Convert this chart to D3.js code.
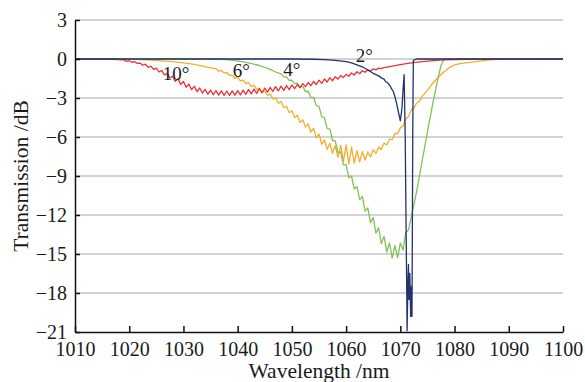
<!DOCTYPE html>
<html>
<head>
<meta charset="utf-8">
<script src="https://cdn.jsdelivr.net/npm/d3@7"></script>
<style>
  html, body { margin: 0; padding: 0; background: #fff; }
  svg { font-family: "Liberation Serif"; }
</style>
</head>
<body>
<svg id="chart" width="585" height="382"></svg>
<script>
// transmission spectra, [wavelength nm, transmission dB]
const curve10deg = [
  [1010,0],[1014,0],[1017,-0.02],[1018,-0.05],
  [1019,-0.06],[1019.5,-0.18],[1020,-0.13],[1020.5,-0.25],[1021,-0.21],[1021.5,-0.34],[1022,-0.31],[1022.5,-0.48],
  [1023,-0.40],[1023.5,-0.64],[1024,-0.55],[1024.5,-0.80],[1025,-0.70],[1025.5,-1.00],[1026,-0.88],[1026.5,-1.23],
  [1027,-1.10],[1027.5,-1.46],[1028,-1.33],[1028.5,-1.72],[1029,-1.51],[1029.5,-1.96],[1030,-1.73],[1030.5,-2.17],
  [1031,-1.93],[1031.5,-2.36],[1032,-2.10],[1032.5,-2.51],[1033,-2.23],[1033.5,-2.62],[1034,-2.33],[1034.5,-2.70],
  [1035,-2.39],[1035.5,-2.75],[1036,-2.43],[1036.5,-2.78],[1037,-2.45],[1037.5,-2.80],[1038,-2.46],[1038.5,-2.80],
  [1039,-2.45],[1039.5,-2.78],[1040,-2.43],[1040.5,-2.76],[1041,-2.40],[1041.5,-2.72],[1042,-2.36],[1042.5,-2.68],
  [1043,-2.32],[1043.5,-2.64],[1044,-2.28],[1044.5,-2.60],[1045,-2.23],[1045.5,-2.55],[1046,-2.18],[1046.5,-2.50],
  [1047,-2.13],[1047.5,-2.45],[1048,-2.09],[1048.5,-2.41],[1049,-2.04],[1049.5,-2.36],[1050,-1.99],[1050.5,-2.28],
  [1051,-1.96],[1051.5,-2.21],[1052,-1.89],[1052.5,-2.13],[1053,-1.81],[1053.5,-2.05],[1054,-1.72],[1054.5,-1.96],
  [1055,-1.63],[1055.5,-1.87],[1056,-1.54],[1056.5,-1.77],[1057,-1.44],[1057.5,-1.67],[1058,-1.36],[1058.5,-1.55],
  [1059,-1.28],[1059.5,-1.43],[1060,-1.18],[1060.5,-1.33],[1061,-1.08],[1061.5,-1.23],[1062,-0.98],[1062.5,-1.13],
  [1063,-0.90],[1063.5,-1.02],[1064,-0.84],[1064.5,-0.92],[1065,-0.76],[1065.5,-0.84],[1066,-0.70],[1066.5,-0.74],
  [1067,-0.66],[1068,-0.58],[1070,-0.44],[1072,-0.30],[1074,-0.20],[1076,-0.12],[1078,-0.07],[1082,-0.03],
  [1088,-0.01],[1100,0]
];

const curve6deg = [
  [1010,0],[1018,0],[1020,-0.02],[1022,-0.05],[1024,-0.09],[1026,-0.14],[1028,-0.20],[1030,-0.30],
  [1032,-0.42],[1034,-0.58],[1035,-0.68],
  [1036,-0.75],[1036.5,-0.93],[1037,-0.89],[1037.5,-1.08],[1038,-1.04],[1038.5,-1.27],[1039,-1.24],[1039.5,-1.48],
  [1040,-1.42],[1040.5,-1.69],[1041,-1.62],[1041.5,-1.90],[1042,-1.81],[1042.5,-2.11],[1043,-2.02],[1043.5,-2.35],
  [1044,-2.25],[1044.5,-2.58],[1045,-2.46],[1045.5,-2.81],[1046,-2.68],[1046.5,-3.08],[1047,-2.98],[1047.5,-3.39],
  [1048,-3.27],[1048.5,-3.75],[1049,-3.63],[1049.5,-4.13],[1050,-3.99],[1050.5,-4.50],[1051,-4.33],[1051.5,-4.88],
  [1052,-4.67],[1052.5,-5.24],[1053,-5.00],[1053.5,-5.63],[1054,-5.33],[1054.5,-6.07],[1055,-5.78],[1055.5,-6.56],
  [1056,-6.22],[1056.5,-6.96],[1057,-6.48],[1057.5,-7.26],[1058,-6.67],[1058.5,-7.57],[1059,-6.65],[1059.5,-7.88],
  [1060,-6.60],[1060.5,-8.09],[1061,-6.77],[1061.5,-8.01],[1062,-7.05],[1062.5,-7.93],[1063,-7.10],[1063.5,-7.77],
  [1064,-7.15],[1064.5,-7.54],[1065,-6.98],[1065.5,-7.26],[1066,-6.77],[1066.5,-6.97],[1067,-6.47],[1067.5,-6.61],
  [1068,-6.17],[1068.5,-6.21],[1069,-5.73],[1069.5,-5.72],[1070,-5.30],[1070.5,-5.15],[1071,-4.62],[1071.5,-4.43],
  [1072,-3.92],[1072.5,-3.80],[1073,-3.39],[1073.5,-3.26],[1074,-2.90],
  [1075,-2.40],[1076,-1.85],[1077,-1.40],[1078,-1.00],[1079,-0.68],[1080,-0.45],[1081,-0.36],[1082,-0.30],
  [1084,-0.20],[1086,-0.08],[1088,-0.02],[1090,0],[1100,0]
];

const curve4deg = [
  [1010,0],[1034,0],[1036,-0.02],[1038,-0.05],[1040,-0.15],[1042,-0.30],[1044,-0.50],[1046,-0.80],[1047,-1.00],
  [1048,-1.14],[1048.5,-1.38],[1049,-1.38],[1049.5,-1.64],[1050,-1.62],[1050.5,-1.90],[1051,-1.86],[1051.5,-2.16],
  [1052,-2.10],[1052.5,-2.50],[1053,-2.48],[1053.5,-2.97],[1054,-2.96],[1054.5,-3.59],[1055,-3.64],[1055.5,-4.43],
  [1056,-4.50],[1056.5,-5.35],[1057,-5.38],[1057.5,-6.27],[1058,-6.30],[1058.5,-7.20],[1059,-7.15],[1059.5,-8.15],
  [1060,-8.12],[1060.5,-9.13],[1061,-9.00],[1061.5,-10.00],[1062,-9.80],[1062.5,-10.82],[1063,-10.58],[1063.5,-11.70],
  [1064,-11.45],[1064.5,-12.58],[1065,-12.20],[1065.5,-13.40],[1066,-12.98],[1066.5,-14.20],[1067,-13.65],[1067.5,-14.85],
  [1068,-14.15],[1068.5,-15.32],[1069,-14.35],[1069.5,-15.27],[1070,-14.15],[1070.5,-14.70],[1071,-13.35],[1071.5,-13.15],
  [1072,-12.20],[1073,-10.20],[1074,-7.90],[1075,-5.60],[1076,-3.40],[1077,-1.40],[1077.5,-0.50],[1078,-0.05],
  [1079,0],[1100,0]
];

const curve2deg = [
  [1010,0],[1050,0],[1054,-0.02],[1056,-0.05],[1058,-0.10],[1060,-0.20],[1061,-0.30],[1062,-0.45],[1063,-0.60],
  [1064,-0.85],[1065,-1.10],[1065.5,-1.20],[1066,-1.30],[1066.5,-1.45],[1067,-1.55],[1067.3,-1.75],[1067.6,-1.80],
  [1068,-2.00],[1068.4,-2.30],[1068.7,-2.50],[1069,-2.90],[1069.3,-3.40],[1069.6,-4.00],[1070,-4.75],[1070.3,-3.80],
  [1070.5,-2.40],[1070.7,-1.20],[1070.9,-6.00],[1071.25,-20.90],[1071.4,-17.00],[1071.5,-15.80],[1071.6,-18.50],
  [1071.75,-16.50],[1071.9,-19.80],[1072.05,-17.50],[1072.15,-19.80],[1072.3,-5.00],[1072.4,-0.10],[1073,0],[1100,0]
];

const series = [
  { name: '6deg', data: curve6deg, color: '#f5ad2c' },
  { name: '4deg', data: curve4deg, color: '#80c257' },
  { name: '10deg', data: curve10deg, color: '#ee2f34' },
  { name: '2deg', data: curve2deg, color: '#22336e' }
];

// angle annotations, placed in data coordinates
const angleLabels = ['10', '6', '4', '2'];
const angleLabelNm = [1026.2, 1039.1, 1048.4, 1061.8];
const angleLabelDb = [-1.6, -1.4, -1.3, -0.23];

const xTicks = [1010, 1020, 1030, 1040, 1050, 1060, 1070, 1080, 1090, 1100];
const yTicks = [3, 0, -3, -6, -9, -12, -15, -18, -21];

const textFont = '"Liberation Serif"';

const width = 585, height = 382;
const margin = { top: 20, right: 22, bottom: 50, left: 75 };

const svg = d3.select('#chart');

const x = d3.scaleLinear()
  .domain([1010, 1100])
  .range([margin.left, width - margin.right]);

const y = d3.scaleLinear()
  .domain([-21, 3])
  .range([height - margin.bottom, margin.top]);

// grid lines
svg.append('g')
  .selectAll('line')
  .data(yTicks.filter(d => d > -21))
  .enter()
  .append('line')
  .attr('x1', x(1010))
  .attr('x2', x(1100))
  .attr('y1', d => y(d))
  .attr('y2', d => y(d))
  .style('stroke', '#c4c4c4')
  .style('stroke-width', 1.5);

const line = d3.line()
  .x(d => x(d[0]))
  .y(d => y(d[1]));

svg.append('g')
  .selectAll('path')
  .data(series)
  .enter()
  .append('path')
  .attr('d', d => line(d.data))
  .style('fill', 'none')
  .style('stroke', d => d.color)
  .style('stroke-width', 1.3)
  .style('stroke-linejoin', 'round');

// axes
const xAxis = d3.axisBottom(x)
  .tickValues(xTicks)
  .tickFormat(d3.format('d'))
  .tickSizeInner(-6)
  .tickSizeOuter(0)
  .tickPadding(10);

const yAxis = d3.axisLeft(y)
  .tickValues(yTicks)
  .tickFormat(d => d < 0 ? '\u2212' + Math.abs(d) : d)
  .tickSizeInner(-5)
  .tickSizeOuter(0)
  .tickPadding(8);

const gx = svg.append('g')
  .attr('transform', `translate(0, ${y(-21)})`)
  .call(xAxis);

const gy = svg.append('g')
  .attr('transform', `translate(${x(1010)}, 0)`)
  .call(yAxis);

[gx, gy].forEach(g => {
  g.attr('font-family', null).attr('font-size', null);
  g.selectAll('.domain, .tick line')
    .attr('stroke', '#111')
    .attr('stroke-width', 1.5);
  g.selectAll('.tick text')
    .style('font-family', textFont)
    .style('font-size', '20px')
    .style('fill', '#1a1a1a');
});

// angle annotations
svg.append('g')
  .selectAll('text')
  .data(angleLabels)
  .enter()
  .append('text')
  .attr('x', (d, i) => x(angleLabelNm[i]))
  .attr('y', (d, i) => y(angleLabelDb[i]))
  .style('font-family', textFont)
  .style('font-size', '19px')
  .style('fill', '#1a1a1a')
  .text(d => d + '\u00b0');

// axis titles
svg.append('text')
  .attr('x', (x(1010) + x(1100)) / 2)
  .attr('y', 378)
  .attr('text-anchor', 'middle')
  .style('font-family', textFont)
  .style('font-size', '21.5px')
  .style('fill', '#1a1a1a')
  .text('Wavelength /nm');

svg.append('text')
  .attr('transform', `translate(28, ${(y(3) + y(-21)) / 2}) rotate(-90)`)
  .attr('text-anchor', 'middle')
  .style('font-family', textFont)
  .style('font-size', '21.5px')
  .style('fill', '#1a1a1a')
  .text('Transmission /dB');
</script>
</body>
</html>
